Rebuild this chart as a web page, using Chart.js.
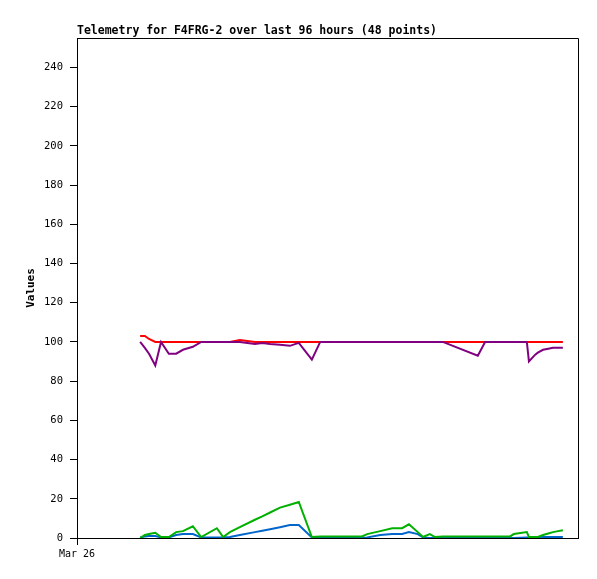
<!DOCTYPE html>
<html>
<head>
<meta charset="utf-8">
<script src="https://cdn.jsdelivr.net/npm/chart.js@4/dist/chart.umd.min.js"></script>
<style>
  body { margin: 0; background: #fff; }
  #wrap { width: 597px; height: 579px; }
</style>
</head>
<body>
<div id="wrap"><canvas id="chart" width="597" height="579"></canvas></div>
<script>
// Hours since Mar 26 00:00 for each telemetry sample
const hours = [
  12.1, 13.0, 13.8, 15.0, 16.1, 17.6, 19.0, 20.3, 22.2, 23.8,
  26.8, 28.0, 29.3, 31.2, 34.1, 35.5, 37.0, 38.9, 40.8, 42.5,
  45.0, 46.6, 49.8, 52.3, 54.6, 55.6, 58.1, 60.4, 62.3, 63.6,
  65.3, 66.3, 67.6, 68.6, 70.1, 76.8, 78.2, 83.0, 83.7, 86.2,
  86.6, 87.8, 88.3, 89.3, 90.3, 91.2, 92.2, 93.1
];

const redValues = [
  103, 103, 101.5, 100, 100, 100, 100, 100, 100, 100,
  100, 100, 100, 101, 100, 100, 100, 100, 100, 100,
  100, 100, 100, 100, 100, 100, 100, 100, 100, 100,
  100, 100, 100, 100, 100, 100, 100, 100, 100, 100,
  100, 100, 100, 100, 100, 100, 100, 100
];

const purpleValues = [
  100, 97, 94, 88, 100, 94, 94, 96, 97.5, 100,
  100, 100, 100, 100, 99, 99.5, 99, 98.5, 98, 99.5,
  91, 100, 100, 100, 100, 100, 100, 100, 100, 100,
  100, 100, 100, 100, 100, 93, 100, 100, 100, 100,
  90, 93.5, 94.5, 96, 96.5, 97, 97, 97
];

const greenValues = [
  0, 1.5, 2, 2.7, 0.5, 0.5, 3, 3.5, 6, 0.5,
  5, 0.5, 3, 5.5, 9.3, 11, 13, 15.5, 17, 18.4,
  0.5, 0.8, 0.8, 0.8, 0.8, 2, 3.5, 5, 5, 7,
  3, 0.5, 2, 0.5, 0.8, 0.8, 0.8, 0.8, 2, 3,
  0.5, 0.5, 0.5, 1.5, 2.3, 3, 3.5, 4
];

const blueValues = [
  0.3, 0.8, 1, 1, 0.3, 0.3, 1.5, 2, 2, 0.3,
  0.3, 0.3, 0.5, 1.5, 3, 3.7, 4.5, 5.5, 6.6, 6.6,
  0.3, 0, 0, 0, 0, 0.3, 1.5, 2, 2, 3,
  2, 0.3, 0, 0, 0, 0, 0, 0, 0, 0.3,
  0.3, 0.3, 0.3, 0.5, 0.5, 0.5, 0.5, 0.5
];

const yTicks = [0, 20, 40, 60, 80, 100, 120, 140, 160, 180, 200, 220, 240];
const xTicks = [0];
const xTickLabels = ['Mar 26'];

const titleText = 'Telemetry for F4FRG-2 over last 96 hours (48 points)';

function points(values) {
  return hours.map((h, i) => ({ x: h, y: values[i] }));
}

function lineSet(label, values, color) {
  return {
    label: label,
    data: points(values),
    borderColor: color,
    backgroundColor: color,
    borderWidth: 2,
    pointRadius: 0,
    tension: 0,
    fill: false
  };
}

// Title and top/right frame lines
const framePlugin = {
  id: 'frame',
  afterDraw(chart) {
    const { ctx, chartArea } = chart;
    ctx.save();
    ctx.strokeStyle = '#000';
    ctx.lineWidth = 1;
    ctx.beginPath();
    ctx.moveTo(chartArea.left, chartArea.top + 0.5);
    ctx.lineTo(chartArea.right + 0.5, chartArea.top + 0.5);
    ctx.lineTo(chartArea.right + 0.5, chartArea.bottom);
    ctx.stroke();
    ctx.fillStyle = '#000';
    ctx.font = 'bold 11.5px "DejaVu Sans Mono"';
    ctx.textBaseline = 'middle';
    ctx.textAlign = 'left';
    ctx.fillText(titleText, chartArea.left, 31);
    ctx.restore();
  }
};

const ctx = document.getElementById('chart').getContext('2d');

new Chart(ctx, {
  type: 'line',
  data: {
    datasets: [
      lineSet('Series 1', purpleValues, '#800080'),
      lineSet('Series 2', greenValues, '#00b000'),
      lineSet('Series 3', redValues, '#ff0000'),
      lineSet('Series 4', blueValues, '#0066cc')
    ]
  },
  options: {
    responsive: false,
    animation: false,
    layout: {
      padding: { left: 0, right: 19, top: 38, bottom: 0 }
    },
    plugins: {
      legend: { display: false },
      tooltip: { enabled: false }
    },
    scales: {
      x: {
        type: 'linear',
        min: 0,
        max: 96,
        afterBuildTicks: scale => {
          scale.ticks = xTicks.map(v => ({ value: v }));
        },
        afterFit: scale => {
          scale.height = 41;
        },
        ticks: {
          color: '#000',
          autoSkip: false,
          maxRotation: 0,
          padding: 3,
          font: { family: 'DejaVu Sans Mono', size: 10 },
          callback: (value, i) => xTickLabels[i]
        },
        grid: {
          drawOnChartArea: false,
          drawTicks: true,
          tickLength: 7,
          color: '#000'
        },
        border: { display: true, color: '#000', width: 1 }
      },
      y: {
        min: 0,
        max: 255,
        afterBuildTicks: scale => {
          scale.ticks = yTicks.map(v => ({ value: v }));
        },
        afterFit: scale => {
          scale.width = 77;
        },
        title: {
          display: true,
          text: 'Values',
          color: '#000',
          font: { family: 'DejaVu Sans Mono', size: 11, weight: 'bold' },
          padding: { top: 25, bottom: 0 }
        },
        ticks: {
          color: '#000',
          padding: 7,
          font: { family: 'DejaVu Sans Mono', size: 10.5 }
        },
        grid: {
          drawOnChartArea: false,
          drawTicks: true,
          tickLength: 7,
          color: '#000'
        },
        border: { display: true, color: '#000', width: 1 }
      }
    }
  },
  plugins: [framePlugin]
});
</script>
</body>
</html>
